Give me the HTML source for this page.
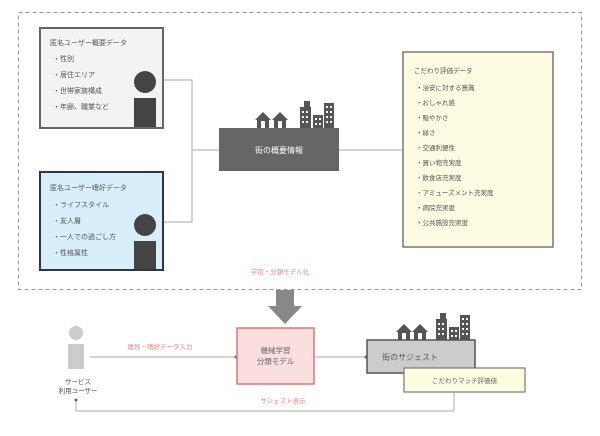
<!DOCTYPE html>
<html><head><meta charset="utf-8"><style>
html,body{margin:0;padding:0;background:#fff;}
svg{display:block;font-family:"Liberation Sans","Noto Sans CJK JP",sans-serif;}
</style></head><body>
<svg width="600" height="436" viewBox="0 0 600 436" xmlns="http://www.w3.org/2000/svg">
<defs>
<g id="house"><polygon points="0,8 8,0 16,8 14,8 14,16 2,16 2,8" fill="#555"/><rect x="6" y="9" width="4" height="7" fill="#fff"/></g>
<g id="bld">
<rect x="0" y="6" width="11" height="22" fill="#555"/><rect x="4" y="0" width="6" height="8" fill="#555"/>
<rect x="13" y="14" width="10" height="14" fill="#555"/><rect x="24" y="2" width="10" height="26" fill="#555"/>
<g fill="#fff"><rect x="2" y="10" width="2" height="2"/><rect x="6" y="10" width="2" height="2"/><rect x="2" y="15" width="2" height="2"/><rect x="6" y="15" width="2" height="2"/><rect x="2" y="20" width="2" height="2"/><rect x="6" y="20" width="2" height="2"/>
<rect x="15" y="17" width="2" height="2"/><rect x="19" y="17" width="2" height="2"/><rect x="15" y="22" width="2" height="2"/><rect x="19" y="22" width="2" height="2"/>
<rect x="26" y="5" width="2" height="2"/><rect x="30" y="5" width="2" height="2"/><rect x="26" y="10" width="2" height="2"/><rect x="30" y="10" width="2" height="2"/><rect x="26" y="15" width="2" height="2"/><rect x="30" y="15" width="2" height="2"/><rect x="26" y="20" width="2" height="2"/><rect x="30" y="20" width="2" height="2"/></g>
</g>
</defs>
<rect x="18.5" y="12.5" width="563" height="277" fill="none" stroke="#999" stroke-dasharray="4,3"/>
<!-- connectors -->
<g stroke="#bbb" stroke-width="1.2" fill="none">
<polyline points="163,80 192,80 192,222 163,222"/>
<line x1="192" y1="150" x2="219" y2="150"/>
<line x1="339" y1="150" x2="403" y2="150"/>
</g>
<!-- box1 -->
<rect x="40" y="28" width="123" height="100" fill="#f3f3f3" stroke="#666" stroke-width="2"/>
<g font-size="7" fill="#555">
<text x="50" y="45">匿名ユーザー概要データ</text>
<text x="53" y="61">・性別</text><text x="53" y="77">・居住エリア</text><text x="53" y="93">・世帯家族構成</text><text x="53" y="109">・年齢、職業など</text>
</g>
<circle cx="145" cy="82" r="11" fill="#444"/><rect x="134" y="98" width="22" height="29" fill="#444"/>
<!-- box2 -->
<rect x="40" y="172" width="123" height="98" fill="#d8effb" stroke="#334" stroke-width="2"/>
<g font-size="7" fill="#555">
<text x="50" y="190">匿名ユーザー嗜好データ</text>
<text x="53" y="207">・ライフスタイル</text><text x="53" y="223">・友人層</text><text x="53" y="239">・一人での過ごし方</text><text x="53" y="255">・性格属性</text>
</g>
<circle cx="145" cy="225" r="11" fill="#444"/><rect x="134" y="241" width="22" height="28" fill="#444"/>
<!-- center -->
<use href="#house" x="255" y="112"/><use href="#house" x="272" y="112"/><use href="#bld" x="300" y="101"/>
<rect x="219" y="128" width="120" height="43" fill="#666"/>
<text x="279" y="153" font-size="8" fill="#fff" text-anchor="middle">街の概要情報</text>
<!-- yellow -->
<rect x="403" y="52" width="150" height="195" fill="#fdfbe2" stroke="#777" stroke-width="1.5"/>
<g font-size="6.5" fill="#555">
<text x="414" y="73">こだわり評価データ</text>
<text x="416" y="90">・治安に対する意識</text><text x="416" y="105">・おしゃれ感</text><text x="416" y="120">・賑やかさ</text><text x="416" y="135">・緑さ</text><text x="416" y="150">・交通利便性</text><text x="416" y="165">・買い物充実度</text><text x="416" y="180">・飲食店充実度</text><text x="416" y="195">・アミューズメント充実度</text><text x="416" y="210">・病院充実度</text><text x="416" y="225">・公共施設充実度</text>
</g>
<text x="280" y="274" font-size="6.5" fill="#e88" text-anchor="middle">学習・分類モデル化</text>
<!-- big arrow -->
<polygon points="276,290 294,290 294,306 302,306 285,324 268,306 276,306" fill="#888"/>
<!-- user -->
<circle cx="76" cy="333" r="7" fill="#ccc"/><rect x="68" y="344" width="16" height="25" fill="#ccc"/>
<text x="78" y="384" font-size="6.5" fill="#555" text-anchor="middle">サービス</text>
<text x="78" y="393" font-size="6.5" fill="#555" text-anchor="middle">利用ユーザー</text>
<line x1="90" y1="357" x2="236" y2="357" stroke="#bbb" stroke-width="1.2"/>
<circle cx="236" cy="357" r="1.5" fill="#666"/>
<text x="160" y="349" font-size="6.5" fill="#e88" text-anchor="middle">属性・嗜好データ入力</text>
<!-- model -->
<rect x="237" y="328" width="77" height="56" fill="#fbdede" stroke="#e07575" stroke-width="1.5"/>
<text x="275.5" y="353" font-size="7.5" fill="#666" text-anchor="middle">機械学習</text>
<text x="275.5" y="364" font-size="7.5" fill="#666" text-anchor="middle">分類モデル</text>
<line x1="314" y1="357" x2="367" y2="357" stroke="#bbb" stroke-width="1.2"/>
<circle cx="366" cy="357" r="1.5" fill="#666"/>
<!-- suggest -->
<use href="#house" x="396" y="324"/><use href="#house" x="412" y="324"/><use href="#bld" x="436" y="313"/>
<rect x="367" y="340" width="108" height="33" fill="#ccc" stroke="#555" stroke-width="1.5"/>
<text x="410" y="360" font-size="8" fill="#555" text-anchor="middle">街のサジェスト</text>
<line x1="454" y1="392" x2="454" y2="411" stroke="#bbb" stroke-width="1.2"/>
<polyline points="454,411 76,411 76,400" fill="none" stroke="#bbb" stroke-width="1.2"/>
<circle cx="76" cy="400" r="1.5" fill="#666"/>
<rect x="404" y="368" width="121" height="24" fill="#fdfbe0" stroke="#777" stroke-width="1.2"/>
<text x="464.5" y="383" font-size="6.5" fill="#666" text-anchor="middle">こだわりマッチ評価値</text>
<text x="283" y="403" font-size="6.5" fill="#e88" text-anchor="middle">サジェスト表示</text>
</svg>
</body></html>
